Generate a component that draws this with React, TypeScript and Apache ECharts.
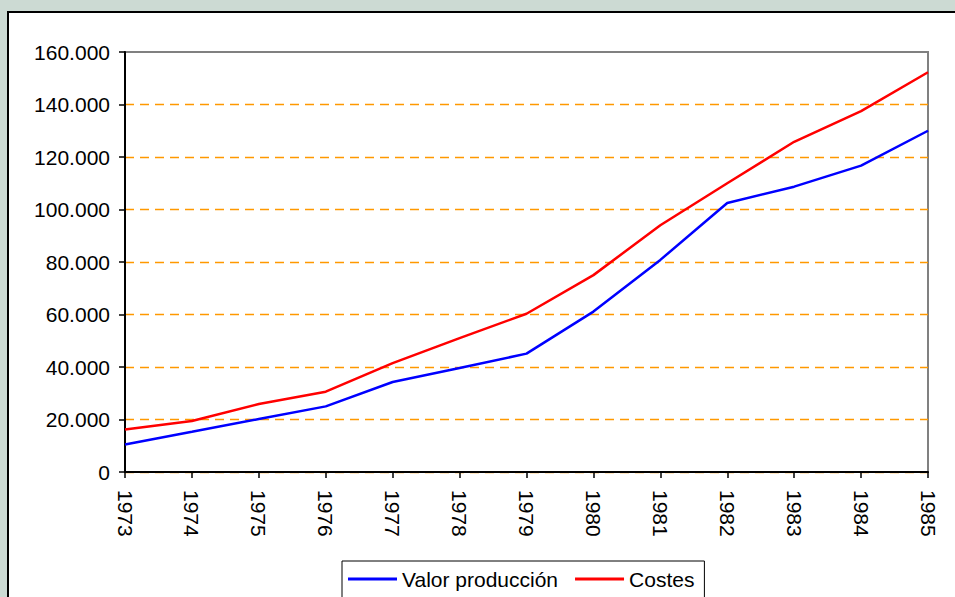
import React, { useEffect, useRef } from "react";
import * as echarts from "echarts";

const years = ["1973", "1974", "1975", "1976", "1977", "1978", "1979", "1980", "1981", "1982", "1983", "1984", "1985"];
const valorProduccion = [10500, 15300, 20200, 25000, 34300, 39600, 45100, 61100, 80800, 102500, 108700, 116700, 130000];
const costes = [16200, 19400, 25900, 30600, 41500, 51000, 60300, 75000, 94000, 110000, 125800, 137500, 152300];
const seriesNames = ["Valor producción", "Costes"];

const fmt = (v: number) => {
  if (v === 0) return "0";
  return String(v).replace(/\B(?=(\d{3})+(?!\d))/g, ".");
};

export default function App() {
  const ref = useRef<HTMLDivElement>(null);
  useEffect(() => {
    if (!ref.current) return;
    const chart = echarts.init(ref.current, null, { renderer: "svg" });
    const font = "'Liberation Sans', Arial, sans-serif";
    const gridColors = ["#FF9900", "#FF9900", "#FF9900", "#FF9900", "#FF9900", "#FF9900", "#FF9900", "#FF9900", "rgba(0,0,0,0)"];
    chart.setOption({
      animation: false,
      backgroundColor: "#CCDAD3",
      textStyle: { fontFamily: font },
      graphic: [
        {
          type: "rect",
          z: -10,
          silent: true,
          shape: { x: 8, y: 12, width: 960, height: 600 },
          style: { fill: "#ffffff", stroke: "#000000", lineWidth: 2 },
        },
      ],
      grid: {
        left: 125,
        right: 27,
        top: 52,
        bottom: 125,
        show: true,
        backgroundColor: "transparent",
        borderColor: "#808080",
        borderWidth: 2,
      },
      legend: {
        left: 342,
        top: 561,
        data: seriesNames,
        icon: "rect",
        itemWidth: 49,
        itemHeight: 3,
        itemGap: 17,
        padding: [7, 10, 8, 6],
        borderColor: "#000000",
        borderWidth: 1,
        backgroundColor: "#ffffff",
        textStyle: { fontSize: 21, color: "#000000", fontFamily: font, lineHeight: 22 },
      },
      xAxis: {
        type: "category",
        data: years,
        boundaryGap: false,
        axisLine: { show: true, lineStyle: { color: "#000000", width: 2 } },
        axisTick: { show: true, inside: false, length: 6, lineStyle: { color: "#000000", width: 1.5 } },
        axisLabel: {
          rotate: -90,
          margin: 18,
          fontSize: 21,
          color: "#000000",
          fontFamily: font,
          interval: 0,
        },
        splitLine: { show: false },
      },
      yAxis: {
        type: "value",
        min: 0,
        max: 160000,
        interval: 20000,
        axisLine: { show: true, lineStyle: { color: "#000000", width: 2 } },
        axisTick: { show: true, inside: false, length: 6, lineStyle: { color: "#000000", width: 1.5 } },
        axisLabel: {
          margin: 15,
          fontSize: 21,
          color: "#000000",
          fontFamily: font,
          formatter: (v: number) => fmt(v),
        },
        splitLine: {
          show: true,
          lineStyle: { color: gridColors, width: 1.3, type: [9, 6] },
        },
      },
      series: [
        {
          name: seriesNames[0],
          type: "line",
          data: valorProduccion,
          symbol: "none",
          lineStyle: { color: "#0000FF", width: 2.5 },
          itemStyle: { color: "#0000FF" },
        },
        {
          name: seriesNames[1],
          type: "line",
          data: costes,
          symbol: "none",
          lineStyle: { color: "#FF0000", width: 2.5 },
          itemStyle: { color: "#FF0000" },
        },
      ],
    });
    return () => chart.dispose();
  }, []);
  return (
    <div
      ref={ref}
      style={{ position: "fixed", left: 0, top: 0, width: 955, height: 597 }}
    />
  );
}
